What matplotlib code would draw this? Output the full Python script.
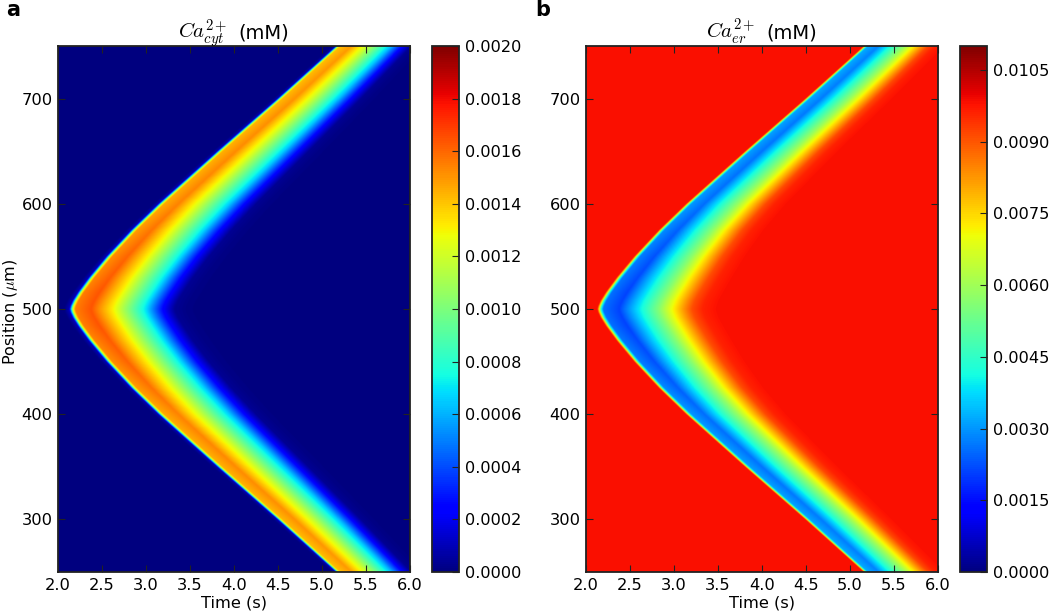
import numpy as np
import matplotlib
matplotlib.use("Agg")
import matplotlib.pyplot as plt

plt.rcParams['font.family'] = 'DejaVu Sans'
plt.rcParams['mathtext.fontset'] = 'cm'
plt.rcParams['mathtext.default'] = 'it'

# wave front: distance from the 500 um origin -> arrival time
distance_um = [0, 3, 8, 16, 30, 50, 75, 100, 150, 200, 250]
front_time_s = [2.125, 2.134, 2.1615, 2.2215, 2.345, 2.545, 2.825, 3.135, 3.805, 4.49, 5.155]
# how much the band narrows, and how the peak level falls, with distance
cyt_width_scale = [1.0, 1.0, 1.0, 1.0, 0.99, 0.975, 0.955, 0.93, 0.87, 0.795, 0.72]
er_width_scale = [1.0, 1.0, 0.995, 0.99, 0.97, 0.93, 0.88, 0.84, 0.78, 0.73, 0.68]
peak_scale = [1.0, 1.0, 1.0, 1.0, 0.99, 0.98, 0.96, 0.94, 0.93, 0.92, 0.91]

# time-since-front profiles at the origin
delay_s = [-0.06, 0.0, 0.02, 0.04, 0.07, 0.25, 0.49, 0.70, 0.87, 1.00, 1.08, 1.20, 1.35, 1.6, 6.0]
cyt_mM = [0.0, 0.0001, 0.0006, 0.0012, 0.00155, 0.00164, 0.00132, 0.00098, 0.00070, 0.00040, 0.00022, 0.00004, 0.00001, 0.0, 0.0]
er_mM = [0.0098, 0.0098, 0.0075, 0.0045, 0.0026, 0.0021, 0.0040, 0.0056, 0.0072, 0.0084, 0.0091, 0.0096, 0.0098, 0.0098, 0.0098]

time_ticks = [2.0, 2.5, 3.0, 3.5, 4.0, 4.5, 5.0, 5.5, 6.0]
position_ticks = [300, 400, 500, 600, 700]
cyt_ticks = [0.0000, 0.0002, 0.0004, 0.0006, 0.0008, 0.0010, 0.0012, 0.0014, 0.0016, 0.0018, 0.0020]
er_ticks = [0.0000, 0.0015, 0.0030, 0.0045, 0.0060, 0.0075, 0.0090, 0.0105]

t = np.linspace(2, 6, 704)
p = np.linspace(250, 750, 1052)
T, P = np.meshgrid(t, p)
D = np.abs(P - 500)
front = np.interp(D, distance_um, front_time_s)
peak = np.interp(D, distance_um, peak_scale)
cyt_grid = np.interp((T - front) / np.interp(D, distance_um, cyt_width_scale), delay_s, cyt_mM) * peak
er_grid = np.interp((T - front) / np.interp(D, distance_um, er_width_scale), delay_s, er_mM)
er_grid = er_mM[0] - (er_mM[0] - er_grid) * peak

W, H = 1050, 614
fig = plt.figure(figsize=(W / 100, H / 100), dpi=100)

def rect(x0, y0, x1, y1):
    return [x0 / W, 1 - y1 / H, (x1 - x0) / W, (y1 - y0) / H]

def panel(x0, cx0, grid, vmax, ticks, math_title, letter, letter_x):
    ax = fig.add_axes(rect(x0, 46, x0 + 352, 572))
    im = ax.imshow(grid, origin='lower', extent=[2, 6, 250, 750], aspect='auto',
                   cmap='jet', vmin=0, vmax=vmax, interpolation='bilinear')
    ax.set_xticks(time_ticks)
    ax.set_xticklabels([f'{v:.1f}' for v in time_ticks])
    ax.set_yticks(position_ticks)
    ax.tick_params(direction='in', top=True, right=True, length=5, width=0.8,
                   labelsize=11.7, pad=4, color='#222222')
    ax.set_xlabel('Time (s)', fontsize=11.7, labelpad=2)
    for s in ax.spines.values():
        s.set_linewidth(1.3)
        s.set_color('#222222')
    fig.text((x0 + 170) / W, 1 - 38.5 / H, math_title, fontsize=15, ha='right', va='baseline')
    fig.text((x0 + 180) / W, 1 - 38.5 / H, '(mM)', fontsize=14, ha='left', va='baseline')
    cax = fig.add_axes(rect(cx0, 46, cx0 + 27, 572))
    cb = fig.colorbar(im, cax=cax)
    cb.set_ticks(ticks)
    cb.set_ticklabels(['%.4f' % v for v in ticks])
    cb.ax.tick_params(direction='in', length=5, width=0.8, labelsize=11.6, pad=4.5, color='#222222')
    cb.outline.set_linewidth(1.3)
    cb.outline.set_edgecolor('#222222')
    fig.text(letter_x / W, 1 - 10 / H, letter, fontsize=15, fontweight='bold', va='center')
    return ax

ax_a = panel(58, 432, cyt_grid, 0.0020, cyt_ticks, r'$Ca^{2+}_{cyt}$', 'a', 6)
ax_a.set_ylabel(r'Position ($\mu$m)', fontsize=11.5, labelpad=1, y=0.495)
panel(586, 960, er_grid, 0.0110, er_ticks, r'$Ca^{2+}_{er}$', 'b', 535)

fig.savefig('out.png', dpi=100)
